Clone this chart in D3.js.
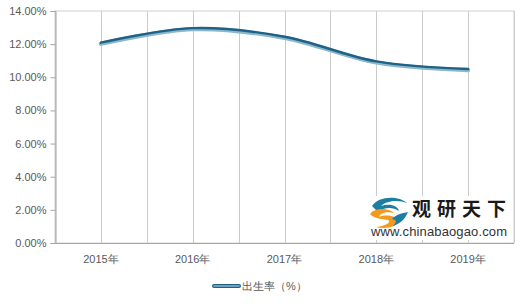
<!DOCTYPE html>
<html>
<head lang="zh">
  <meta charset="utf-8">
  <title>出生率</title>
  <script src="https://d3js.org/d3.v7.min.js" charset="utf-8"></script>
  <style>
    body { margin: 0; background: #fff; }
    text { font-family: "Liberation Sans", Arial, sans-serif; }
  </style>
</head>
<body>
  <script>

    // data
    var years = ["2015年", "2016年", "2017年", "2018年", "2019年"];
    var birthRate = [12.07, 12.95, 12.43, 10.94, 10.48];
    var yTicks = [0, 2, 4, 6, 8, 10, 12, 14];
    var seriesName = "出生率（%）";

    var width = 520;
    var height = 306;
    var margin = {top: 11, right: 6, bottom: 63, left: 55};

    var svg = d3.select("body")
      .append("svg")
      .attr("width", width)
      .attr("height", height);

    var x = d3.scaleBand()
      .domain(years)
      .range([margin.left, width - margin.right]);

    var y = d3.scaleLinear()
      .domain([0, 14])
      .range([height - margin.bottom, margin.top]);

    var plotW = x.range()[1] - x.range()[0];
    var plotH = y.range()[0] - y.range()[1];

    // plot border
    svg.append("rect")
      .attr("x", margin.left)
      .attr("y", margin.top)
      .attr("width", plotW)
      .attr("height", plotH)
      .attr("fill", "none")
      .attr("stroke", "#d0d0d0")
      .attr("stroke-width", 1);

    // vertical gridlines at category centres and boundaries
    var gx = [];
    years.forEach(function(d) {
      gx.push(x(d));
      gx.push(x(d) + x.bandwidth() / 2);
    });
    gx.push(x.range()[1]);

    svg.append("g")
      .selectAll("line")
      .data(gx)
      .enter().append("line")
        .attr("x1", function(d) { return Math.round(d) + 0.5; })
        .attr("x2", function(d) { return Math.round(d) + 0.5; })
        .attr("y1", margin.top)
        .attr("y2", y(0))
        .attr("stroke", "#cccccc")
        .attr("stroke-width", 1);

    // y axis
    var yAxis = svg.append("g")
      .attr("transform", "translate(" + (margin.left + 0.5) + ",0)")
      .call(d3.axisLeft(y)
        .tickValues(yTicks)
        .tickSize(5)
        .tickPadding(4)
        .tickFormat(function(d) { return d.toFixed(2) + "%"; }));
    yAxis.selectAll("path, line").attr("stroke", "#a6a6a6");
    yAxis.selectAll("text")
      .attr("fill", "#595959")
      .style("font-size", "11px")
      .style("font-family", "'Liberation Sans', Arial, sans-serif");

    // x axis line
    svg.append("line")
      .attr("x1", margin.left)
      .attr("x2", x.range()[1])
      .attr("y1", Math.round(y(0)) + 0.5)
      .attr("y2", Math.round(y(0)) + 0.5)
      .attr("stroke", "#a6a6a6")
      .attr("stroke-width", 1.2);

    svg.append("g")
      .selectAll("text")
      .data(years)
      .enter().append("text")
        .attr("x", function(d) { return x(d) + x.bandwidth() / 2; })
        .attr("y", y(0) + 20)
        .attr("text-anchor", "middle")
        .attr("fill", "#595959")
        .style("font-size", "11px")
        .text(function(d) { return d; });

    // watermark
    var wm = svg.append("g");
    wm.append("rect")
      .attr("x", 366).attr("y", 196)
      .attr("width", 146).attr("height", 44)
      .attr("fill", "#fff");
    // logo
    wm.append("path")
      .attr("d", "M372,206 C378,196 398,195 407,203 C400,200 387,200 381,206 C390,203 398,206 399,211 C393,207 384,207 378,212 Z")
      .attr("fill", "#1a7fa3");
    wm.append("path")
      .attr("d", "M370,214 C374,208 388,207 394,213 C387,211 380,213 379,217 C386,214 396,216 397,220 C400,226 386,230 376,227 C386,226 392,222 388,220 C382,219 375,219 370,214 Z")
      .attr("fill", "#f39a1c");
    wm.append("path")
      .attr("d", "M392,219 C396,214 404,213 408,212 C405,220 399,224 393,226 C397,222 397,220 392,219 Z")
      .attr("fill", "#1a7fa3");
    wm.append("text")
      .attr("x", 412).attr("y", 216)
      .attr("textLength", 94)
      .attr("fill", "#1a1a1a")
      .style("font-size", "19px")
      .style("font-weight", "bold")
      .style("font-family", "'Noto Sans CJK SC', sans-serif")
      .text("观研天下");
    wm.append("text")
      .attr("x", 371).attr("y", 236)
      .attr("textLength", 136)
      .attr("fill", "#333")
      .style("font-size", "13px")
      .text("www.chinabaogao.com");

    // line
    var line = d3.line()
      .x(function(d, i) { return x(years[i]) + x.bandwidth() / 2; })
      .y(function(d) { return y(d); })
      .curve(d3.curveCatmullRom.alpha(0.5));

    svg.append("path")
      .datum(birthRate)
      .attr("d", line)
      .attr("transform", "translate(0,0.8)")
      .attr("fill", "none")
      .attr("stroke", "#8db7cb")
      .attr("stroke-width", 4.2)
      .attr("stroke-linecap", "round");

    svg.append("path")
      .datum(birthRate)
      .attr("d", line)
      .attr("transform", "translate(0,-0.3)")
      .attr("fill", "none")
      .attr("stroke", "#1e6287")
      .attr("stroke-width", 2.4)
      .attr("stroke-linecap", "round");

    // legend
    var lg = svg.append("g").attr("transform", "translate(213,286)");
    lg.append("line")
      .attr("x1", 1).attr("x2", 26)
      .attr("stroke", "#1e6287")
      .attr("stroke-width", 4)
      .attr("stroke-linecap", "round");
    lg.append("line")
      .attr("x1", 1).attr("x2", 26)
      .attr("stroke", "#8db7cb")
      .attr("stroke-width", 1.6)
      .attr("stroke-linecap", "round");
    lg.append("text")
      .attr("x", 29).attr("y", 4)
      .attr("fill", "#595959")
      .style("font-size", "11px")
      .text(seriesName);

  </script>
</body>
</html>
